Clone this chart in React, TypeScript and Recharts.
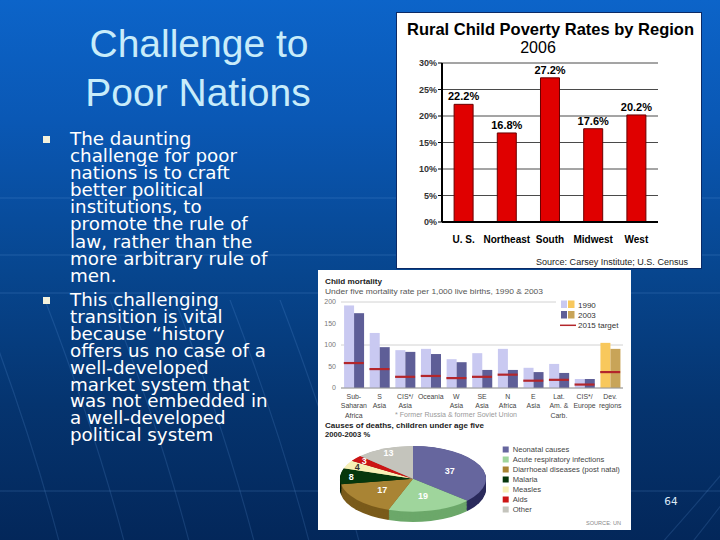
import React from "react";
import {
  BarChart,
  Bar,
  XAxis,
  YAxis,
  CartesianGrid,
  LabelList,
  ComposedChart,
  Scatter,
  PieChart,
  Pie,
  Cell,
} from "recharts";

// ---------- data ----------
const povertyRegions = ["U. S.", "Northeast", "South", "Midwest", "West"];
const povertyRates = [22.2, 16.8, 27.2, 17.6, 20.2];
const povertyTicks = [0, 5, 10, 15, 20, 25, 30];

const mortalityRegions = [
  "Sub-|Saharan|Africa",
  "S|Asia",
  "CIS*/|Asia",
  "Oceania",
  "W|Asia",
  "SE|Asia",
  "N|Africa",
  "E|Asia",
  "Lat.|Am. &|Carb.",
  "CIS*/|Europe",
  "Dev.|regions",
];
const mortality1990 = [192, 128, 88, 91, 67, 81, 91, 47, 56, 21, 105];
const mortality2003 = [174, 95, 84, 79, 60, 42, 42, 37, 35, 21, 91];
const mortalityTarget = [58, 44, 26, 28, 23, 26, 31, 17, 19, 8, 37];
const mortalityTicks = [0, 50, 100, 150, 200];

const causeNames = [
  "Neonatal causes",
  "Acute respiratory infections",
  "Diarrhoeal diseases (post natal)",
  "Malaria",
  "Measles",
  "Aids",
  "Other",
];
const causeShares = [37, 19, 17, 8, 4, 3, 13];

const bulletOne = [
  "The daunting",
  "challenge for poor",
  "nations is to craft",
  "better political",
  "institutions, to",
  "promote the rule of",
  "law, rather than the",
  "more arbitrary rule of",
  "men.",
];
const bulletTwo = [
  "This challenging",
  "transition is vital",
  "because \u201chistory",
  "offers us no case of a",
  "well-developed",
  "market system that",
  "was not embedded in",
  "a well-developed",
  "political system",
];

const povertyData = povertyRegions.map((region, i) => ({ region, rate: povertyRates[i] }));
const mortalityData = mortalityRegions.map((region, i) => ({
  region,
  y1990: mortality1990[i],
  y2003: mortality2003[i],
  target: mortalityTarget[i],
}));
const causeData = causeNames.map((name, i) => ({ name, share: causeShares[i] }));

// ---------- styles ----------
const ARIAL = "'Liberation Sans', Arial, sans-serif";
const VERDANA = "'DejaVu Sans', Verdana, sans-serif";

const causeColors = ["#66669e", "#9fd59c", "#a98434", "#06370c", "#f7f0b6", "#cc1515", "#c4c4bc"];
const causeSideColors = ["#2b2b5c", "#6ca86a", "#7a5b1b", "#021b05", "#cdc48a", "#880a0a", "#94948c"];
const PIE_SQUASH = 0.45;
const pieDepthLayers = Array.from({ length: 12 }, (_, i) => 23 - i * 2);
const RAD = Math.PI / 180;

const c1990 = "#c9c9f1";
const c2003 = "#5e5e97";
const cDev1990 = "#f8c85c";
const cDev2003 = "#c8a458";

const MortTick = (props: any) => {
  const { x, y, payload } = props;
  const lines = String(payload.value).split("|");
  return (
    <text x={x} y={y} textAnchor="middle" fontSize={6.9} fill="#444" fontFamily={ARIAL}>
      {lines.map((l, i) => (
        <tspan key={i} x={x} dy={i === 0 ? 11 : 9.4}>
          {l}
        </tspan>
      ))}
    </text>
  );
};

const TargetMark = (p: any) => (
  <line x1={p.cx - 10} x2={p.cx + 10} y1={p.cy} y2={p.cy} stroke="#b3262b" strokeWidth={2.2} />
);

const renderCauseLabel = (p: any) => {
  const v = causeShares[p.index];
  const r = p.outerRadius * (v >= 15 ? 0.55 : 0.85);
  const x = p.cx + r * Math.cos(-p.midAngle * RAD);
  const y = p.cy + r * Math.sin(-p.midAngle * RAD);
  return (
    <text
      x={x}
      y={y}
      transform={`translate(${x} ${y}) scale(1 ${1 / PIE_SQUASH}) translate(${-x} ${-y})`}
      textAnchor="middle"
      dominantBaseline="central"
      fontSize={9}
      fontWeight="bold"
      fontFamily={ARIAL}
      fill={p.index === 4 ? "#333" : "#fff"}
    >
      {v}
    </text>
  );
};

const bgArcs = [20, 85, 150, 215, 270, 320];

export default function App() {
  return (
    <div
      style={{
        position: "absolute",
        left: 0,
        top: 0,
        width: 720,
        height: 540,
        overflow: "hidden",
        background:
          "linear-gradient(180deg, #0c64c9 0%, #0a58b5 22%, #07468f 50%, #05346f 75%, #03275a 100%)",
      }}
    >
      {/* faint template lines */}
      <svg style={{ position: "absolute", left: 0, top: 0 }} width={720} height={540}>
        {[198, 255, 293, 491].map((y) => (
          <line key={y} x1={0} x2={720} y1={y} y2={y} stroke="rgba(120,175,240,0.22)" strokeWidth={1} />
        ))}
        {bgArcs.map((x) => (
          <path
            key={x}
            d={`M ${x - 40} 300 Q ${x + 10} 430 ${x + 40} 545`}
            fill="none"
            stroke="rgba(120,175,240,0.16)"
            strokeWidth={1.2}
          />
        ))}
        <path d="M 660 545 Q 700 500 725 470" fill="none" stroke="rgba(120,175,240,0.16)" strokeWidth={1.2} />
        <path d="M 690 545 Q 710 520 725 500" fill="none" stroke="rgba(120,175,240,0.16)" strokeWidth={1.2} />
      </svg>

      {/* title */}
      <div
        style={{
          position: "absolute",
          left: 0,
          top: 24,
          width: 398,
          textAlign: "center",
          fontFamily: ARIAL,
          fontSize: 39,
          lineHeight: "39px",
          color: "#c8ecfa",
          whiteSpace: "nowrap",
        }}
      >
        Challenge to
      </div>
      <div
        style={{
          position: "absolute",
          left: 0,
          top: 73,
          width: 396,
          textAlign: "center",
          fontFamily: ARIAL,
          fontSize: 39,
          lineHeight: "39px",
          color: "#c8ecfa",
          whiteSpace: "nowrap",
        }}
      >
        Poor Nations
      </div>

      {/* bullets */}
      <div style={{ position: "absolute", left: 43, top: 136, width: 7, height: 7, background: "#f3f1dc" }} />
      <div style={{ position: "absolute", left: 43, top: 297, width: 7, height: 7, background: "#f3f1dc" }} />
      <div
        style={{
          position: "absolute",
          left: 70,
          top: 130,
          fontFamily: VERDANA,
          fontSize: 18.3,
          lineHeight: "17.1px",
          color: "#ffffff",
          whiteSpace: "nowrap",
        }}
      >
        {bulletOne.map((l, i) => (
          <div key={i}>{l}</div>
        ))}
      </div>
      <div
        style={{
          position: "absolute",
          left: 70,
          top: 292,
          fontFamily: VERDANA,
          fontSize: 18.3,
          lineHeight: "16.9px",
          color: "#ffffff",
          whiteSpace: "nowrap",
        }}
      >
        {bulletTwo.map((l, i) => (
          <div key={i}>{l}</div>
        ))}
      </div>

      {/* Rural child poverty chart */}
      <div
        style={{
          position: "absolute",
          left: 396,
          top: 12,
          width: 304,
          height: 255,
          background: "#ffffff",
          border: "1px solid #0b2a66",
          fontFamily: ARIAL,
        }}
      >
        <div style={{ position: "absolute", left: 0, top: 0 }}>
          <BarChart
            width={304}
            height={255}
            data={povertyData}
            margin={{ top: 50, right: 43, bottom: 22, left: 0 }}
            barCategoryGap="28%"
          >
            <CartesianGrid vertical={false} stroke="#4a4a4a" strokeWidth={1} />
            <XAxis
              dataKey="region"
              interval={0}
              tickLine={false}
              tickSize={6}
              tickMargin={8}
              height={24}
              axisLine={{ stroke: "#000", strokeWidth: 2 }}
              tick={{ fontSize: 10, fontWeight: "bold", fill: "#000", fontFamily: ARIAL }}
            />
            <YAxis
              domain={[0, 30]}
              ticks={povertyTicks}
              tickFormatter={(v: number) => `${v}%`}
              width={45}
              axisLine={{ stroke: "#000", strokeWidth: 2 }}
              tickLine={{ stroke: "#000" }}
              tickSize={4}
              tickMargin={1}
              tick={{ fontSize: 9, fontWeight: "bold", fill: "#333", fontFamily: ARIAL }}
            />
            <Bar dataKey="rate" fill="#e00000" stroke="#6a0000" strokeWidth={1} isAnimationActive={false}>
              <LabelList
                dataKey="rate"
                position="top"
                offset={4}
                formatter={(v: any) => `${v}%`}
                fontSize={11}
                fontWeight="bold"
                fill="#000"
                fontFamily={ARIAL}
              />
            </Bar>
          </BarChart>
        </div>
        <svg style={{ position: "absolute", left: 0, top: 0 }} width={304} height={255}>
          <text
            x={153.5}
            y={22}
            textAnchor="middle"
            fontSize={16.5}
            fontWeight="bold"
            fill="#000"
            fontFamily={ARIAL}
            textLength={287}
            lengthAdjust="spacingAndGlyphs"
          >
            Rural Child Poverty Rates by Region
          </text>
          <text x={141} y={40.3} textAnchor="middle" fontSize={16} fill="#000" fontFamily={ARIAL}>
            2006
          </text>
          <text
            x={139}
            y={252}
            fontSize={9.2}
            fill="#222"
            fontFamily={ARIAL}
            textLength={152}
            lengthAdjust="spacingAndGlyphs"
          >
            Source: Carsey Institute; U.S. Census
          </text>
        </svg>
      </div>

      {/* Child mortality image */}
      <div
        style={{
          position: "absolute",
          left: 318,
          top: 270,
          width: 313,
          height: 260,
          background: "#ffffff",
          fontFamily: ARIAL,
        }}
      >
        <div style={{ position: "absolute", left: 0, top: 0 }}>
          <ComposedChart
            width={313}
            height={150}
            data={mortalityData}
            margin={{ top: 32, right: 8, bottom: 0, left: 0 }}
            barCategoryGap="12%"
            barGap={0}
          >
            <CartesianGrid vertical={false} stroke="#d2d2d2" />
            <XAxis
              dataKey="region"
              interval={0}
              tick={<MortTick />}
              tickLine={false}
              tickSize={0}
              tickMargin={0}
              height={32}
              axisLine={{ stroke: "#999" }}
            />
            <YAxis
              domain={[0, 200]}
              ticks={mortalityTicks}
              width={23}
              tickSize={3}
              tickMargin={2}
              tickLine={false}
              axisLine={false}
              tick={{ fontSize: 7, fill: "#777", fontFamily: ARIAL }}
            />
            <Bar dataKey="y1990" isAnimationActive={false}>
              {mortalityData.map((_, i) => (
                <Cell key={i} fill={i === mortalityData.length - 1 ? cDev1990 : c1990} />
              ))}
            </Bar>
            <Bar dataKey="y2003" isAnimationActive={false}>
              {mortalityData.map((_, i) => (
                <Cell key={i} fill={i === mortalityData.length - 1 ? cDev2003 : c2003} />
              ))}
            </Bar>
            <Scatter dataKey="target" shape={TargetMark} isAnimationActive={false} />
          </ComposedChart>
        </div>

        {/* 3D-looking pie */}
        <div
          style={{
            position: "absolute",
            left: 15,
            top: 175.25,
            transform: `scaleY(${PIE_SQUASH})`,
            transformOrigin: "0 0",
          }}
        >
          <PieChart width={160} height={175} margin={{ top: 0, right: 0, bottom: 0, left: 0 }}>
            {pieDepthLayers.map((d) => (
              <Pie
                key={d}
                data={causeData}
                dataKey="share"
                cx={80}
                cy={75 + d}
                outerRadius={73}
                startAngle={90}
                endAngle={-270}
                stroke="none"
                isAnimationActive={false}
              >
                {causeData.map((_, i) => (
                  <Cell key={i} fill={causeSideColors[i]} />
                ))}
              </Pie>
            ))}
            <Pie
              data={causeData}
              dataKey="share"
              cx={80}
              cy={75}
              outerRadius={73}
              startAngle={90}
              endAngle={-270}
              stroke="none"
              isAnimationActive={false}
              label={renderCauseLabel}
              labelLine={false}
            >
              {causeData.map((_, i) => (
                <Cell key={i} fill={causeColors[i]} />
              ))}
            </Pie>
          </PieChart>
        </div>

        <svg style={{ position: "absolute", left: 0, top: 0 }} width={313} height={260}>
          <text x={7} y={13.5} fontSize={8} fontWeight="bold" fill="#222" textLength={57} lengthAdjust="spacingAndGlyphs">
            Child mortality
          </text>
          <text x={7} y={24} fontSize={7.5} fill="#555" textLength={218} lengthAdjust="spacingAndGlyphs">
            Under five mortality rate per 1,000 live births, 1990 &amp; 2003
          </text>

          {/* bar legend */}
          <rect x={238} y={27} width={75} height={33} fill="#fff" />
          <rect x={243} y={30.5} width={6} height={7.5} fill={c1990} />
          <rect x={250} y={30.5} width={6.5} height={7.5} fill={cDev1990} />
          <rect x={243} y={41} width={6} height={7.5} fill={c2003} />
          <rect x={250} y={41} width={6.5} height={7.5} fill={cDev2003} />
          <line x1={242} x2={258} y1={55.3} y2={55.3} stroke="#b3262b" strokeWidth={1.5} />
          <text x={260} y={37.5} fontSize={8} fill="#333">1990</text>
          <text x={260} y={47.5} fontSize={8} fill="#333">2003</text>
          <text x={260} y={58} fontSize={8} fill="#333">2015 target</text>

          <text x={77} y={146.5} fontSize={6.5} fill="#999" textLength={122} lengthAdjust="spacingAndGlyphs">
            * Former Russia &amp; former Soviet Union
          </text>

          <text x={7} y={158} fontSize={7.6} fontWeight="bold" fill="#222" textLength={159} lengthAdjust="spacingAndGlyphs">
            Causes of deaths, children under age five
          </text>
          <text x={7} y={167} fontSize={7.6} fontWeight="bold" fill="#222">
            2000-2003 %
          </text>

          {causeNames.map((n, i) => (
            <g key={n}>
              <rect x={184.7} y={176.5 + i * 10} width={6} height={6} fill={causeColors[i]} />
              <text x={194.7} y={182 + i * 10} fontSize={7.6} fill="#444">
                {n}
              </text>
            </g>
          ))}
          <text x={268} y={254.5} fontSize={5.5} fill="#888" textLength={35} lengthAdjust="spacingAndGlyphs">
            SOURCE: UN
          </text>
        </svg>
      </div>

      {/* page number */}
      <div
        style={{
          position: "absolute",
          left: 660,
          top: 496,
          width: 22,
          textAlign: "center",
          fontFamily: VERDANA,
          fontSize: 10.5,
          lineHeight: "10.5px",
          color: "#dde9f6",
        }}
      >
        64
      </div>
    </div>
  );
}
